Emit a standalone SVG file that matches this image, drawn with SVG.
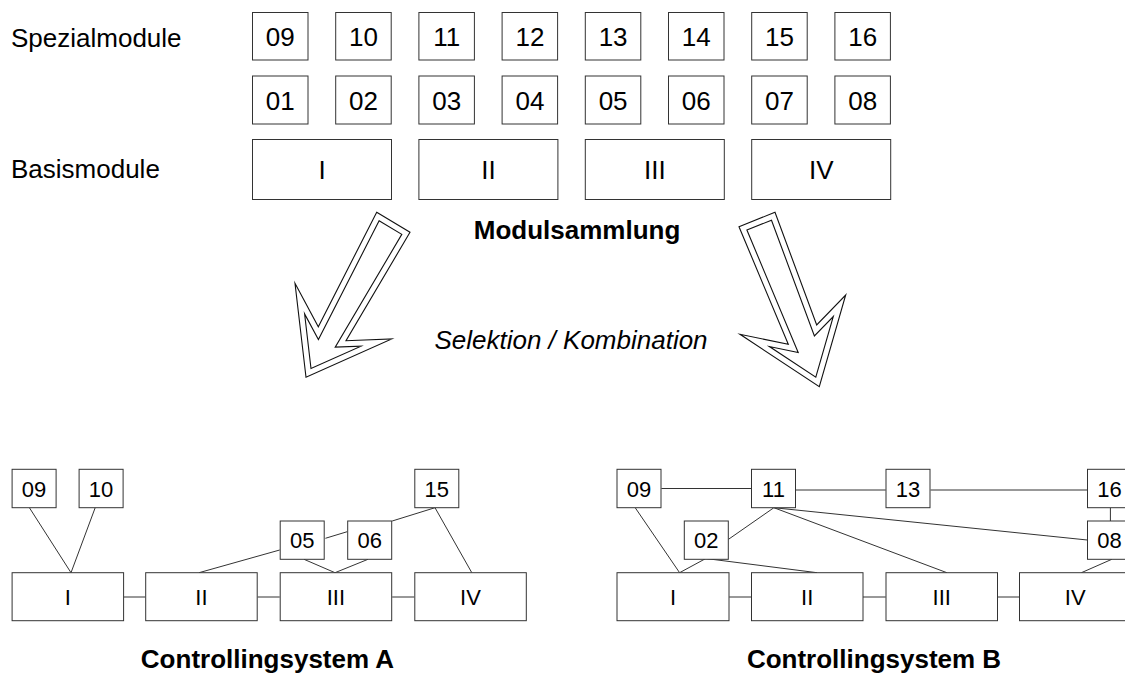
<svg xmlns="http://www.w3.org/2000/svg" width="1125" height="674" viewBox="0 0 1125 674">
<style>
text{font-family:"Liberation Sans",Arial,sans-serif;fill:#000}
.lbl{font-size:26px}
.t{font-size:26px;text-anchor:middle}
.s{font-size:22px;text-anchor:middle}
.b{font-size:26px;font-weight:bold;text-anchor:middle}
.i{font-size:26px;font-style:italic;text-anchor:middle}
rect{fill:#fff;stroke:#333;stroke-width:1}
.c line{stroke:#333;stroke-width:1}
.ar{fill:none;stroke:#111;stroke-width:1.1;stroke-linejoin:miter;stroke-miterlimit:20}
</style>
<rect x="0" y="0" width="1125" height="674" style="fill:#fff;stroke:none"/>
<text class="lbl" x="11" y="47">Spezialmodule</text>
<text class="lbl" x="11" y="178">Basismodule</text>
<g id="m09"><rect x="252.5" y="12.5" width="55.5" height="47.5"/><text class="t" x="280.3" y="46">09</text></g>
<g id="m10"><rect x="335.7" y="12.5" width="55.5" height="47.5"/><text class="t" x="363.5" y="46">10</text></g>
<g id="m11"><rect x="418.9" y="12.5" width="55.5" height="47.5"/><text class="t" x="446.7" y="46">11</text></g>
<g id="m12"><rect x="502.1" y="12.5" width="55.5" height="47.5"/><text class="t" x="529.9" y="46">12</text></g>
<g id="m13"><rect x="585.3" y="12.5" width="55.5" height="47.5"/><text class="t" x="613.1" y="46">13</text></g>
<g id="m14"><rect x="668.5" y="12.5" width="55.5" height="47.5"/><text class="t" x="696.3" y="46">14</text></g>
<g id="m15"><rect x="751.7" y="12.5" width="55.5" height="47.5"/><text class="t" x="779.5" y="46">15</text></g>
<g id="m16"><rect x="834.9" y="12.5" width="55.5" height="47.5"/><text class="t" x="862.7" y="46">16</text></g>
<g id="m01"><rect x="252.5" y="76" width="55.5" height="48"/><text class="t" x="280.3" y="110">01</text></g>
<g id="m02"><rect x="335.7" y="76" width="55.5" height="48"/><text class="t" x="363.5" y="110">02</text></g>
<g id="m03"><rect x="418.9" y="76" width="55.5" height="48"/><text class="t" x="446.7" y="110">03</text></g>
<g id="m04"><rect x="502.1" y="76" width="55.5" height="48"/><text class="t" x="529.9" y="110">04</text></g>
<g id="m05"><rect x="585.3" y="76" width="55.5" height="48"/><text class="t" x="613.1" y="110">05</text></g>
<g id="m06"><rect x="668.5" y="76" width="55.5" height="48"/><text class="t" x="696.3" y="110">06</text></g>
<g id="m07"><rect x="751.7" y="76" width="55.5" height="48"/><text class="t" x="779.5" y="110">07</text></g>
<g id="m08"><rect x="834.9" y="76" width="55.5" height="48"/><text class="t" x="862.7" y="110">08</text></g>
<g id="bI"><rect x="252.5" y="139.5" width="139" height="60"/><text class="t" x="322" y="179">I</text></g>
<g id="bII"><rect x="418.9" y="139.5" width="139" height="60"/><text class="t" x="488.4" y="179">II</text></g>
<g id="bIII"><rect x="585.3" y="139.5" width="139" height="60"/><text class="t" x="654.8" y="179">III</text></g>
<g id="bIV"><rect x="751.7" y="139.5" width="139" height="60"/><text class="t" x="821.2" y="179">IV</text></g>
<text class="b" x="577" y="239">Modulsammlung</text>
<g id="arrowL">
<polygon class="ar" points="376.7,212.3 410,232.3 346,340.7 391.7,339 306,377.3 295,283.3 318.3,326.7"/>
<polygon class="ar" points="379.1,220.8 401.8,234.4 335.2,347.1 361,346.2 311,368.5 304.6,313.9 318.4,339.6"/>
</g>
<g id="arrowR">
<polygon class="ar" points="739,226.7 775,212.3 816.7,325 845.7,295 819.3,386.7 740,334.3 788.3,344.3"/>
<polygon class="ar" points="746.9,230 771.5,220.2 814.4,336 833.3,316.5 815.8,377.2 769.4,346.5 798.2,352.5"/>
</g>
<text class="i" x="571" y="349">Selektion / Kombination</text>
<g class="c" id="connectors">
<line x1="123.6" y1="597" x2="145.4" y2="597"/>
<line x1="257.5" y1="597" x2="279.7" y2="597"/>
<line x1="392.2" y1="597" x2="414.3" y2="597"/>
<line x1="29.4" y1="507.7" x2="71" y2="572.7"/>
<line x1="95.2" y1="507.7" x2="71" y2="572.7"/>
<line x1="279.7" y1="550" x2="199" y2="572.7"/>
<line x1="304" y1="559.3" x2="335" y2="572.7"/>
<line x1="368" y1="559.3" x2="335" y2="572.7"/>
<line x1="325.4" y1="538.3" x2="347.2" y2="531.7"/>
<line x1="392.2" y1="521" x2="435" y2="507.7"/>
<line x1="435" y1="507.7" x2="471.8" y2="572.7"/>
<line x1="661.4" y1="488.5" x2="751.2" y2="488.5"/>
<line x1="795.9" y1="490" x2="885.7" y2="490"/>
<line x1="930.5" y1="490" x2="1087.3" y2="490"/>
<line x1="1110.4" y1="507.7" x2="1110.4" y2="521"/>
<line x1="635.2" y1="507.7" x2="679.6" y2="572.7"/>
<line x1="705.8" y1="558.5" x2="679.6" y2="572.7"/>
<line x1="705.8" y1="558.5" x2="817" y2="572.7"/>
<line x1="773.9" y1="507.7" x2="728.5" y2="539.3"/>
<line x1="773.9" y1="507.7" x2="946.9" y2="572.7"/>
<line x1="773.9" y1="507.7" x2="1087.3" y2="540"/>
<line x1="1111.8" y1="559.3" x2="1081.4" y2="572.7"/>
<line x1="729.2" y1="597" x2="751.2" y2="597"/>
<line x1="863" y1="597" x2="885.7" y2="597"/>
<line x1="997.5" y1="597" x2="1019.5" y2="597"/>
</g>
<g id="A09"><rect x="12.1" y="469.3" width="44" height="38.4"/><text class="s" x="34.1" y="496.5">09</text></g>
<g id="A10"><rect x="79.1" y="469.3" width="44" height="38.4"/><text class="s" x="101.1" y="496.5">10</text></g>
<g id="A15"><rect x="414.8" y="469.3" width="44" height="38.4"/><text class="s" x="436.8" y="496.5">15</text></g>
<g id="A05"><rect x="280.2" y="521" width="44" height="38.3"/><text class="s" x="302.2" y="548">05</text></g>
<g id="A06"><rect x="347.7" y="521" width="44" height="38.3"/><text class="s" x="369.7" y="548">06</text></g>
<g id="AI"><rect x="12.1" y="572.7" width="111.5" height="48"/><text class="s" x="67.8" y="605">I</text></g>
<g id="AII"><rect x="145.7" y="572.7" width="111.5" height="48"/><text class="s" x="201.4" y="605">II</text></g>
<g id="AIII"><rect x="280.2" y="572.7" width="111.5" height="48"/><text class="s" x="335.9" y="605">III</text></g>
<g id="AIV"><rect x="414.8" y="572.7" width="111.5" height="48"/><text class="s" x="470.5" y="605">IV</text></g>
<g id="B09"><rect x="617" y="469.3" width="44" height="38.4"/><text class="s" x="639" y="496.5">09</text></g>
<g id="B11"><rect x="751.5" y="469.3" width="44" height="38.4"/><text class="s" x="773.5" y="496.5">11</text></g>
<g id="B13"><rect x="886" y="469.3" width="44" height="38.4"/><text class="s" x="908" y="496.5">13</text></g>
<g id="B16"><rect x="1087.5" y="469.3" width="44" height="38.4"/><text class="s" x="1109.5" y="496.5">16</text></g>
<g id="B02"><rect x="684.3" y="521" width="44" height="38.3"/><text class="s" x="706.3" y="548">02</text></g>
<g id="B08"><rect x="1087.5" y="521" width="44" height="38.3"/><text class="s" x="1109.5" y="548">08</text></g>
<g id="BI"><rect x="617" y="572.7" width="112" height="48"/><text class="s" x="673" y="605">I</text></g>
<g id="BII"><rect x="751.5" y="572.7" width="111.5" height="48"/><text class="s" x="807.2" y="605">II</text></g>
<g id="BIII"><rect x="886" y="572.7" width="111.5" height="48"/><text class="s" x="941.7" y="605">III</text></g>
<g id="BIV"><rect x="1019.5" y="572.7" width="111.5" height="48"/><text class="s" x="1075.2" y="605">IV</text></g>
<text class="b" x="267.5" y="668">Controllingsystem A</text>
<text class="b" x="874" y="668">Controllingsystem B</text>
</svg>
